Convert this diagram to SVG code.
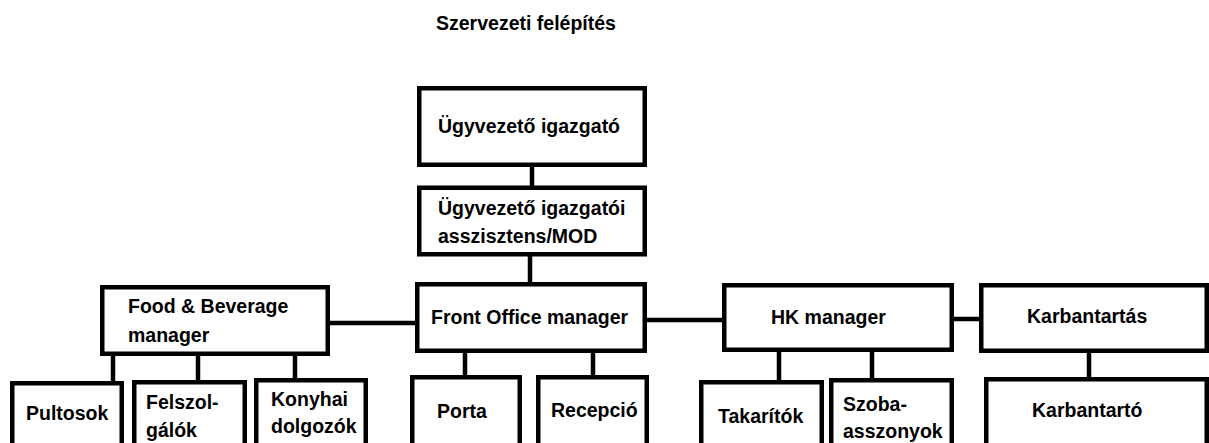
<svg xmlns="http://www.w3.org/2000/svg" width="1209" height="443" viewBox="0 0 1209 443">
<style>
.box{fill:#fff;stroke:#000;stroke-width:4.5}
.con line{stroke:#000;stroke-width:4.5}
text{font-family:"Liberation Sans",Arial,sans-serif;font-weight:bold;font-size:19.5px;fill:#000}
</style>
<rect width="1209" height="443" fill="#fff"/>
<text x="436" y="30">Szervezeti felépítés</text>
<g class="con">
<line x1="532" y1="166" x2="532" y2="187"/>
<line x1="530" y1="255" x2="530" y2="283"/>
<line x1="329" y1="323" x2="416" y2="323"/>
<line x1="646" y1="320" x2="723" y2="320"/>
<line x1="953" y1="319" x2="980" y2="319"/>
<line x1="113" y1="355" x2="113" y2="382"/>
<line x1="198" y1="355" x2="198" y2="381"/>
<line x1="295" y1="355" x2="295" y2="380"/>
<line x1="465" y1="352" x2="465" y2="377"/>
<line x1="593" y1="352" x2="593" y2="377"/>
<line x1="779" y1="351" x2="779" y2="381"/>
<line x1="872" y1="351" x2="872" y2="380"/>
<line x1="1089" y1="352" x2="1089" y2="379"/>
</g>
<g id="ceo"><rect class="box" x="419.25" y="88.25" width="225.5" height="76.5"/><text x="438" y="133">Ügyvezető igazgató</text></g>
<g id="assistant"><rect class="box" x="419.25" y="187.75" width="225.5" height="66.5"/><text x="438" y="215">Ügyvezető igazgatói</text><text x="438" y="243">asszisztens/MOD</text></g>
<g id="fb"><rect class="box" x="102.25" y="287.25" width="225.5" height="66.5"/><text x="128" y="313">Food &amp; Beverage</text><text x="128" y="342">manager</text></g>
<g id="fo"><rect class="box" x="417.25" y="284.25" width="227.5" height="66.5"/><text x="431" y="324">Front Office manager</text></g>
<g id="hk"><rect class="box" x="724.25" y="285.25" width="227.5" height="64.5"/><text x="771" y="324">HK manager</text></g>
<g id="karb"><rect class="box" x="981.25" y="285.25" width="225.5" height="65.5"/><text x="1027" y="323">Karbantartás</text></g>
<g id="pultosok"><rect class="box" x="12.25" y="383.25" width="109.5" height="80"/><text x="26" y="420">Pultosok</text></g>
<g id="felszolgalok"><rect class="box" x="134.25" y="382.25" width="110.5" height="80"/><text x="146" y="409">Felszol-</text><text x="146" y="437">gálók</text></g>
<g id="konyhai"><rect class="box" x="256.25" y="380.25" width="109.5" height="80"/><text x="271" y="406">Konyhai</text><text x="271" y="433">dolgozók</text></g>
<g id="porta"><rect class="box" x="412.25" y="377.25" width="107.5" height="80"/><text x="437" y="418">Porta</text></g>
<g id="recepcio"><rect class="box" x="538.25" y="377.25" width="108.5" height="80"/><text x="551" y="417">Recepció</text></g>
<g id="takaritok"><rect class="box" x="701.25" y="382.25" width="120.5" height="80"/><text x="718" y="423">Takarítók</text></g>
<g id="szoba"><rect class="box" x="831.25" y="380.25" width="120.5" height="80"/><text x="843" y="411">Szoba-</text><text x="843" y="438">asszonyok</text></g>
<g id="karbantarto"><rect class="box" x="986.25" y="379.25" width="220.5" height="80"/><text x="1032" y="417">Karbantartó</text></g>
</svg>
